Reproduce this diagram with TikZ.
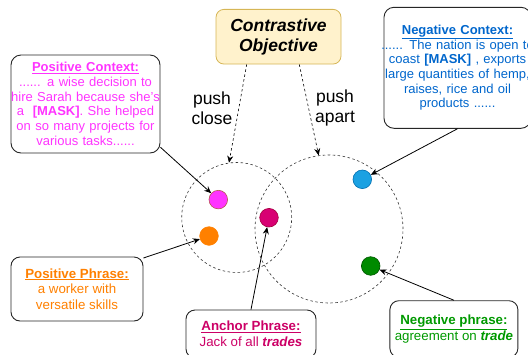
\documentclass[tikz,border=0pt]{standalone}
\usepackage{fontspec}
\setsansfont{Liberation Sans}
\usetikzlibrary{arrows,arrows.meta,positioning}
\definecolor{objfill}{HTML}{FFF2CC}
\definecolor{objline}{HTML}{D6B656}
\definecolor{posctx}{HTML}{FF33FF}
\definecolor{negctx}{HTML}{0066CC}
\definecolor{posphr}{HTML}{FF8000}
\definecolor{ancphr}{HTML}{CC0066}
\definecolor{negphr}{HTML}{009900}
\definecolor{pdotline}{HTML}{B85450}
\definecolor{adotfill}{HTML}{D80073}
\definecolor{adotline}{HTML}{A50040}
\definecolor{ndotfill}{HTML}{1BA1E2}
\definecolor{ndotline}{HTML}{006EAF}
\definecolor{gdotfill}{HTML}{008A00}
\definecolor{gdotline}{HTML}{005700}
\newcommand{\wideline}[1]{\makebox[\linewidth]{#1}}

\begin{document}
\begin{tikzpicture}
	[font=\sffamily, x=1pt, y=-1pt, inner sep=0pt,
	objbox/.style	= {rectangle, draw=objline, fill=objfill, line width=0.8pt, rounded corners=8pt, align=center, minimum width=125pt, minimum height=54.7pt, font=\sffamily\fontsize{17.5}{20}\selectfont},
	txtbox/.style	= {rectangle, draw=black!85, line width=0.9pt, rounded corners=10pt, align=center, font=\sffamily\fontsize{13}{14.7}\selectfont},
	phrbox/.style	= {rectangle, draw=black!85, line width=0.9pt, rounded corners=9pt, align=center, font=\sffamily\fontsize{13.3}{15.7}\selectfont},
	cluster/.style	= {circle, draw=black!80, line width=0.6pt, dash pattern=on 2.5pt off 2.5pt},
	emb/.style		= {circle, line width=0.6pt, minimum size=18.6pt},
	label/.style	= {align=center, font=\sffamily\fontsize{17.5}{20}\selectfont},
	paths/.style	= {->, >={Stealth[length=7pt,width=6pt]}, line width=0.8pt},
	push/.style		= {->, >={Stealth[length=7pt,width=6pt]}, line width=0.6pt, dash pattern=on 2.5pt off 2.5pt}]
	
	\useasboundingbox (0,0) rectangle (528,354);
	
	\node at (236.7, 217.5)	[cluster, minimum size=110pt]	(pclus)	{};
	\node at (329, 229)		[cluster, minimum size=148pt]	(nclus)	{};
	
	\node at (278.5, 36.7)	[objbox]	(obj)	{\textbf{\textit{Contrastive}}\\\textbf{\textit{Objective}}};
	
	\node at (212, 108)		[label]		(close)	{push\\close};
	\node at (335, 108)		[label]		(apart)	{push\\apart};
	
	\node at (218.3, 199.6)	[emb, fill=posctx, draw=pdotline]	(pdot)	{};
	\node at (209, 236)		[emb, fill=posphr, draw=posphr]		(odot)	{};
	\node at (269, 217.7)	[emb, fill=adotfill, draw=adotline]	(adot)	{};
	\node at (362.3, 179.3)	[emb, fill=ndotfill, draw=ndotline]	(bdot)	{};
	\node at (370.7, 266)	[emb, fill=gdotfill, draw=gdotline]	(gdot)	{};
	
	\node at (85.5, 104)	[txtbox, text width=149pt, minimum height=98pt, text=posctx]	(pctx)
		{\underline{\textbf{Positive Context:}}\\...... a wise decision to\\\wideline{hire Sarah because she's}\\\wideline{a \ \textbf{[MASK]}. She helped}\\on so many projects for\\various tasks......};
	\node at (457.5, 67.8)	[txtbox, text width=147pt, minimum height=121pt, text=negctx]	(nctx)
		{\underline{\textbf{Negative Context:}}\\\wideline{...... The nation is open to}\\coast \textbf{[MASK]} , exports\\\wideline{large quantities of hemp,}\\raises, rice and oil\\products ......};
	
	\node at (77, 289)		[phrbox, minimum width=132pt, minimum height=64pt, text=posphr]	(pphr)
		{\underline{\textbf{Positive Phrase:}}\\a worker with\\versatile skills};
	\node at (251, 334)		[phrbox, minimum width=130pt, minimum height=48pt, text=ancphr]	(aphr)
		{\underline{\textbf{Anchor Phrase:}}\\Jack of all \textbf{\textit{trades}}};
	\node at (453.9, 329)	[phrbox, minimum width=128pt, minimum height=56.6pt, text=negphr]	(nphr)
		{\underline{\textbf{Negative phrase:}}\\agreement on \textbf{\textit{trade}}};
	
	\draw [push] ([xshift=-31.8pt]obj.south) -- (pclus.98);
	\draw [push] ([xshift=20.8pt]obj.south) -- (nclus.98);
	
	\draw [paths] (pctx.-30) -- (pdot);
	\draw [paths] (pphr.25) -- (odot);
	\draw [paths] (aphr.north) -- (adot);
	\draw [paths] (nctx.south) -- (bdot);
	\draw [paths] (nphr.north) -- (gdot);
	
\end{tikzpicture}
\end{document}
